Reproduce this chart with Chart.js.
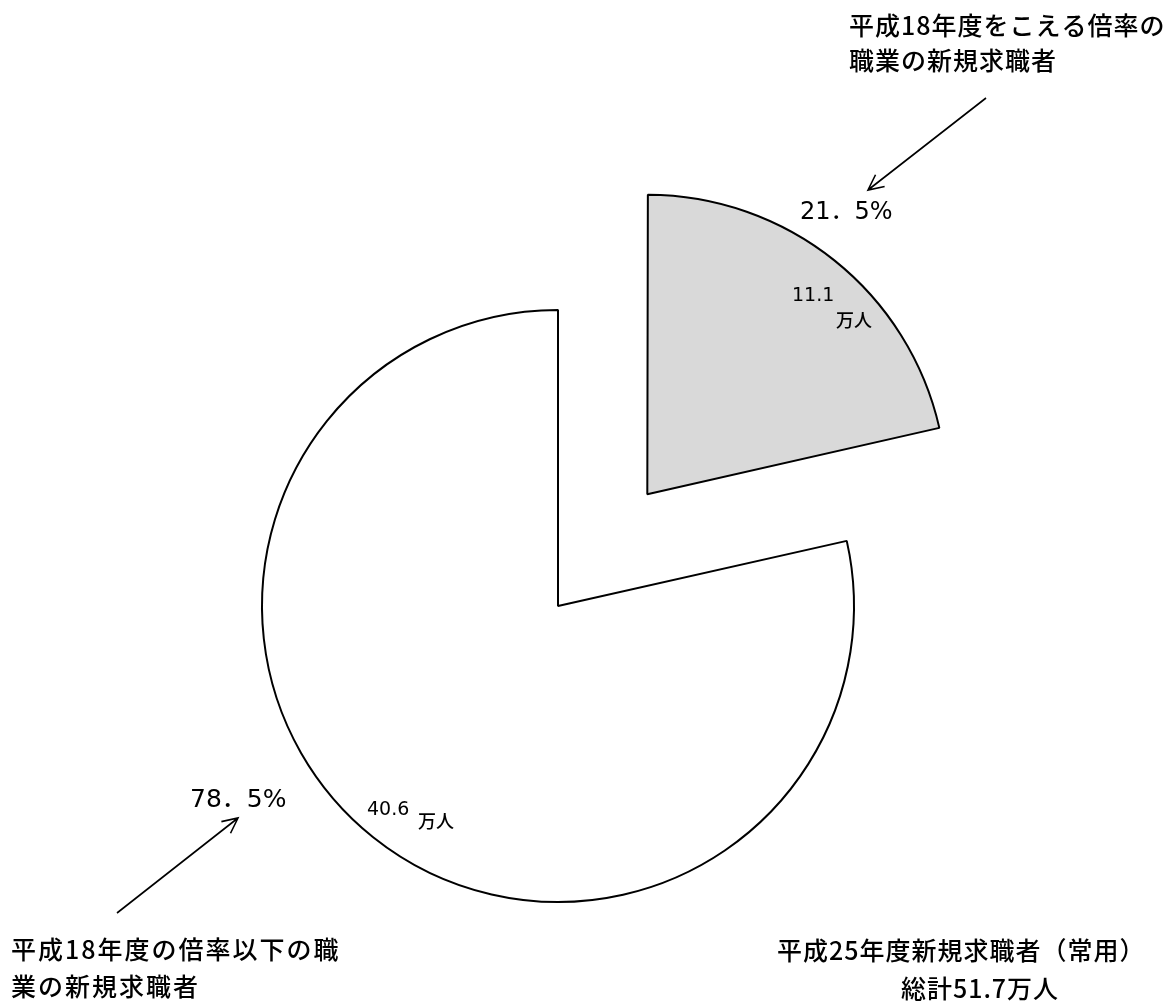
<!DOCTYPE html>
<html>
<head>
<meta charset="utf-8">
<script src="https://cdn.jsdelivr.net/npm/chart.js@4"></script>
<style>
  body { margin: 0; background: #fff; }
  #pie { display: block; }
</style>
</head>
<body>
<canvas id="pie" width="1173" height="1001"></canvas>
<script>
// 新規求職者（常用）の内訳, 万人
const categories = ["平成18年度をこえる倍率の職業の新規求職者", "平成18年度の倍率以下の職業の新規求職者"];
const seekers = [11.1, 40.6];
const sliceColors = ["#d9d9d9", "#ffffff"];
const pullOut = [143, 0]; // how far each slice is pulled from the centre, px

const total = seekers.reduce((a, b) => a + b, 0);
const pct = seekers.map(v => (v / total * 100).toFixed(1).replace(".", "．") + "%");

// arrow with an open head
function arrow(ctx, x1, y1, x2, y2) {
    const a = Math.atan2(y2 - y1, x2 - x1), h = 17;
    ctx.beginPath();
    ctx.moveTo(x1, y1); ctx.lineTo(x2, y2);
    ctx.moveTo(x2 - h * Math.cos(a - 0.45), y2 - h * Math.sin(a - 0.45));
    ctx.lineTo(x2, y2);
    ctx.lineTo(x2 - h * Math.cos(a + 0.45), y2 - h * Math.sin(a + 0.45));
    ctx.stroke();
}

const jp = '"Noto Sans CJK JP", sans-serif';
const num = '"DejaVu Sans", "Noto Sans CJK JP", sans-serif';

const labelPlugin = {
    id: "labels",
    afterDraw(chart) {
        const ctx = chart.ctx;
        ctx.save();
        ctx.fillStyle = "#000";
        ctx.strokeStyle = "#000";
        ctx.lineWidth = 1.6;
        ctx.textBaseline = "middle";
        ctx.textAlign = "left";

        // category captions
        ctx.font = "500 25px " + jp;
        ctx.letterSpacing = "1px";
        ctx.fillText("平成18年度をこえる倍率の", 849, 25);
        ctx.fillText("職業の新規求職者", 849, 60);
        ctx.letterSpacing = "2px";
        ctx.fillText("平成18年度の倍率以下の職", 11, 949);
        ctx.fillText("業の新規求職者", 11, 986);
        ctx.letterSpacing = "1px";

        // total
        ctx.fillText("平成25年度新規求職者（常用）", 777, 950);
        ctx.textAlign = "center";
        ctx.fillText("総計" + total.toFixed(1) + "万人", 980, 988);
        ctx.letterSpacing = "0px";

        // shares
        ctx.textAlign = "left";
        ctx.font = "24px " + num;
        ctx.fillText(pct[0], 800, 213);
        ctx.font = "25px " + num;
        ctx.fillText(pct[1], 190, 800);

        // values
        ctx.font = "19px " + num;
        ctx.fillText(seekers[0].toFixed(1), 792, 296);
        ctx.fillText(seekers[1].toFixed(1), 367, 810);
        ctx.font = "500 18px " + jp;
        ctx.fillText("万人", 836, 320);
        ctx.fillText("万人", 418, 821);

        arrow(ctx, 986, 98, 868, 190);
        arrow(ctx, 117, 913, 238, 818);
        ctx.restore();
    }
};

new Chart(document.getElementById("pie"), {
    type: "pie",
    data: {
        labels: categories,
        datasets: [{
            data: seekers,
            backgroundColor: sliceColors,
            borderColor: "#000",
            borderWidth: 2,
            // arc offsets are drawn at a quarter of the set value
            offset: pullOut.map(p => p * 4)
        }]
    },
    options: {
        responsive: false,
        animation: false,
        events: [],
        radius: 296,
        layout: { padding: { left: 0, right: 57, top: 211, bottom: 0 } },
        plugins: {
            legend: { display: false },
            tooltip: { enabled: false }
        }
    },
    plugins: [labelPlugin]
});
</script>
</body>
</html>
